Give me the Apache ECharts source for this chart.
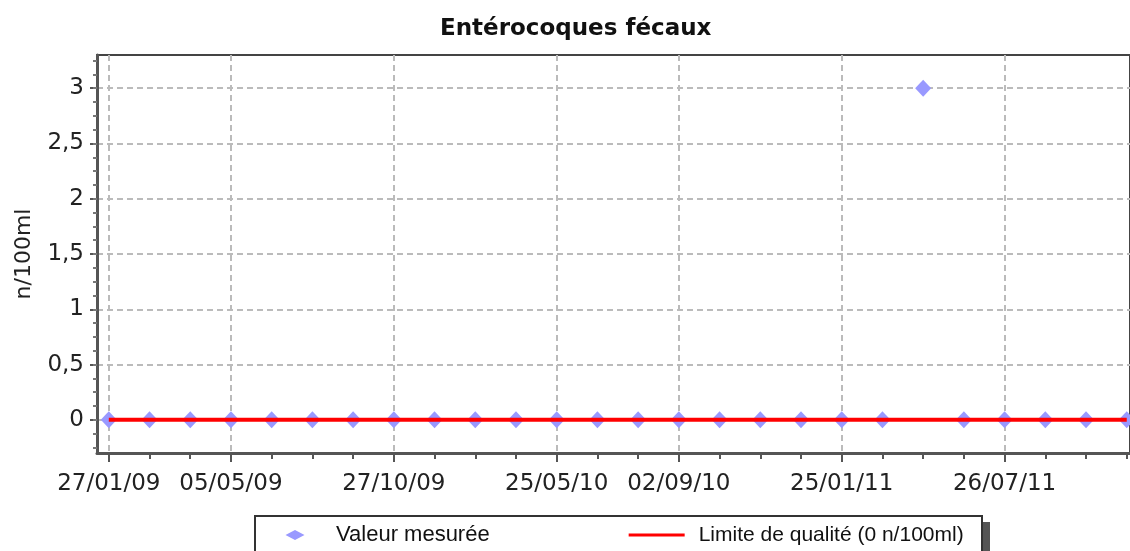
<!DOCTYPE html>
<html>
<head>
<meta charset="utf-8">
<script src="https://cdn.jsdelivr.net/npm/echarts@6/dist/echarts.min.js"></script>
<style>
  html, body { margin: 0; padding: 0; background: #fff; }
  #chart { width: 1130px; height: 551px; }
</style>
</head>
<body>
<div id="chart"></div>
<script>
// sample dates shown on the axis (index of the sample -> label)
var dateLabels = ['27/01/09', '05/05/09', '27/10/09', '25/05/10', '02/09/10', '25/01/11', '26/07/11'];
var dateIndex = [0, 3, 7, 11, 14, 18, 22];

// measured values (n/100ml), one per sample
var measured = [0, 0, 0, 0, 0, 0, 0, 0, 0, 0, 0, 0, 0, 0, 0, 0, 0, 0, 0, 0, 3, 0, 0, 0, 0, 0];
// quality limit (0 n/100ml)
var limit = [0, 0, 0, 0, 0, 0, 0, 0, 0, 0, 0, 0, 0, 0, 0, 0, 0, 0, 0, 0, 0, 0, 0, 0, 0, 0];

var yTicks = [0, 0.5, 1, 1.5, 2, 2.5, 3];

var labelOf = {};
dateIndex.forEach(function (idx, k) { labelOf[idx] = dateLabels[k]; });

var allIdx = measured.map(function (v, i) { return i; });
var yMinor = [];
for (var t = -0.25; t <= 3.25; t += 0.125) yMinor.push(t);

var font = 'DejaVu Sans';
var gridLine = { show: true, lineStyle: { color: '#bbbbbb', width: 2, type: [6, 4] } };

var chart = echarts.init(document.getElementById('chart'));

var option = {
    animation: false,
    backgroundColor: '#fff',
    title: {
        text: 'Entérocoques fécaux',
        left: 440,
        top: 18,
        padding: 0,
        textStyle: { fontFamily: font, fontWeight: 'bold', fontSize: 23, color: '#111' }
    },
    grid: {
        left: 97, top: 55, right: -3, bottom: 98,
        show: true, borderColor: '#444', borderWidth: 2
    },
    // legend frame with its drop shadow
    graphic: [{
        type: 'rect', z: 0, silent: true,
        shape: { x: 261, y: 522, width: 729, height: 60 },
        style: { fill: '#555' }
    }, {
        type: 'rect', z: 1, silent: true,
        shape: { x: 255, y: 516, width: 727, height: 60 },
        style: { fill: '#fff', stroke: '#333', lineWidth: 2 }
    }],
    legend: {
        left: 254,
        top: 515,
        z: 10,
        padding: [9, 12, 20, 12],
        itemGap: 139,
        itemWidth: 65,
        itemHeight: 10,
        textStyle: { fontFamily: 'Liberation Sans', fontSize: 22, color: '#111' },
        data: [
            { name: 'Valeur mesurée', icon: 'path://M0,0L0.01,0M19.5,5L29,0L38.5,5L29,10ZM65,10L64.99,10' },
            { name: 'Limite de qualité (0 n/100ml)', icon: 'path://M0,0L0.01,0M0,3.5H56V6.5H0ZM65,10L64.99,10',
              textStyle: { fontSize: 21 } }
        ]
    },
    xAxis: [{
        type: 'value',
        min: -0.29,
        max: 25.08,
        axisLine: { show: true, onZero: false, lineStyle: { color: '#555', width: 3 } },
        axisTick: { show: true, customValues: dateIndex, length: 9, lineStyle: { color: '#555', width: 2 } },
        axisLabel: {
            customValues: dateIndex,
            formatter: function (v) { return labelOf[v] || ''; },
            fontFamily: font, fontSize: 23, color: '#222', margin: 20
        },
        splitLine: gridLine
    }, {
        type: 'value',
        position: 'bottom',
        min: -0.29,
        max: 25.08,
        axisLine: { show: false, onZero: false },
        axisTick: { show: true, customValues: allIdx, length: 6, lineStyle: { color: '#555', width: 2 } },
        axisLabel: { show: false },
        splitLine: { show: false }
    }],
    yAxis: [{
        type: 'value',
        min: -0.3,
        max: 3.3,
        name: 'n/100ml',
        nameLocation: 'middle',
        nameGap: 62,
        nameTextStyle: { fontFamily: font, fontSize: 22, color: '#222' },
        axisLine: { show: true, onZero: false, lineStyle: { color: '#555', width: 3 } },
        axisTick: { show: true, customValues: yTicks, length: 7, lineStyle: { color: '#555', width: 2 } },
        axisLabel: {
            customValues: yTicks,
            formatter: function (v) { return String(v).replace('.', ','); },
            fontFamily: font, fontSize: 23, color: '#222', margin: 13
        },
        splitLine: gridLine
    }, {
        type: 'value',
        position: 'left',
        min: -0.3,
        max: 3.3,
        axisLine: { show: false, onZero: false },
        axisTick: { show: true, customValues: yMinor, length: 4, lineStyle: { color: '#777', width: 2 } },
        axisLabel: { show: false },
        splitLine: { show: false }
    }],
    series: [{
        name: 'Valeur mesurée',
        type: 'scatter',
        symbol: 'diamond',
        symbolSize: [16, 17],
        itemStyle: { color: '#9999ff', opacity: 1 },
        data: measured.map(function (v, i) { return [i, v]; })
    }, {
        name: 'Limite de qualité (0 n/100ml)',
        type: 'line',
        symbol: 'none',
        lineStyle: { color: '#ff0000', width: 4 },
        itemStyle: { color: '#ff0000' },
        data: limit.map(function (v, i) { return [i, v]; })
    }]
};

chart.setOption(option);
</script>
</body>
</html>
